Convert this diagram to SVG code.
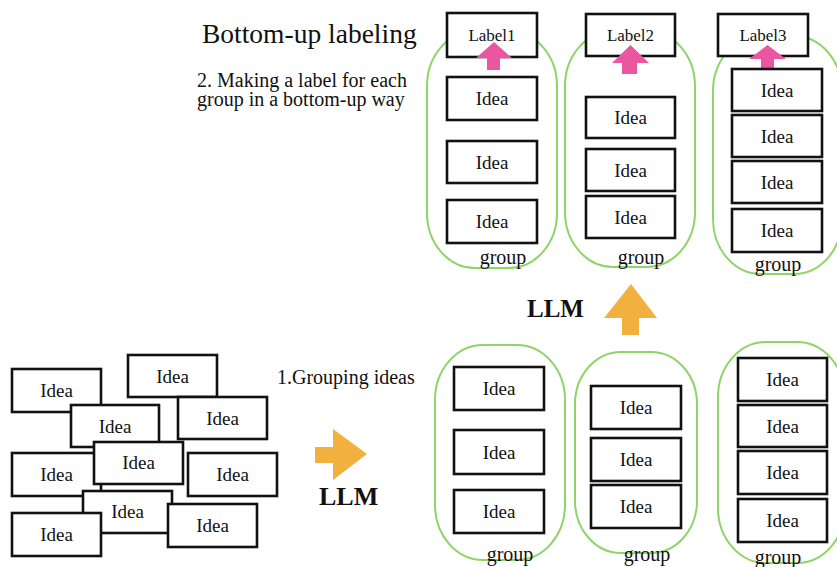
<svg xmlns="http://www.w3.org/2000/svg" width="837" height="567" viewBox="0 0 837 567">
<style>
text{font-family:"Liberation Serif","Times New Roman",serif;fill:#111}
.box{fill:#fff;stroke:#111;stroke-width:2.6}
.blob{fill:none;stroke:#8fd468;stroke-width:2}
.idea{font-size:19px;text-anchor:middle}
.lbl{font-size:17px;text-anchor:middle}
.grp{font-size:20px;text-anchor:middle}
.llm{font-size:25px;font-weight:bold}
.pink{fill:#ea56a0}
.orange{fill:#f2b13e}
</style>
<rect width="837" height="567" fill="#fff"/>
<g id="titles">
<text x="202" y="43" style="font-size:27.5px">Bottom-up labeling</text>
<text x="197" y="87" style="font-size:20px">2. Making a label for each</text>
<text x="197" y="106" style="font-size:20px">group in a bottom-up way</text>
<text x="277" y="384" style="font-size:20px">1.Grouping ideas</text>
</g>
<g id="scattered">
<g id="s-a"><rect class="box" x="12" y="369" width="89" height="43"/><text class="idea" x="56.5" y="397">Idea</text></g>
<g id="s-b"><rect class="box" x="128" y="355" width="89" height="42"/><text class="idea" x="172.5" y="382.5">Idea</text></g>
<g id="s-c"><rect class="box" x="71" y="405" width="88" height="42"/><text class="idea" x="115" y="432.5">Idea</text></g>
<g id="s-d"><rect class="box" x="178" y="397" width="89" height="42"/><text class="idea" x="222.5" y="424.5">Idea</text></g>
<g id="s-e"><rect class="box" x="12" y="453" width="89" height="43"/><text class="idea" x="56.5" y="481">Idea</text></g>
<g id="s-g"><rect class="box" x="188" y="453" width="89" height="43"/><text class="idea" x="232.5" y="481">Idea</text></g>
<g id="s-h"><rect class="box" x="83" y="491" width="89" height="42"/><text class="idea" x="127.5" y="518">Idea</text></g>
<g id="s-f"><rect class="box" x="94" y="442" width="89" height="42"/><text class="idea" x="138.5" y="469">Idea</text></g>
<g id="s-i"><rect class="box" x="168" y="504" width="89" height="43"/><text class="idea" x="212.5" y="532">Idea</text></g>
<g id="s-j"><rect class="box" x="12" y="513" width="89" height="43"/><text class="idea" x="56.5" y="541">Idea</text></g>
</g>
<g id="connectors">
<path class="orange" d="M315,447 H333 V429 L367,454 L333,480 V463 H315 Z"/>
<text class="llm" x="319" y="505" style="font-size:26px">LLM</text>
<path class="orange" d="M622,335 V318 H604 L631,284 L657,318 H639 V335 Z"/>
<text class="llm" x="527" y="317">LLM</text>
</g>
<g id="top-group1">
<rect class="blob" x="427" y="31" width="130" height="237" rx="48" ry="55"/>
<rect class="box" x="447" y="13" width="90" height="44"/><text class="lbl" x="492" y="41">Label1</text>
<rect class="box" x="447" y="77" width="90" height="43"/><text class="idea" x="492" y="105">Idea</text>
<rect class="box" x="447" y="141" width="90" height="42"/><text class="idea" x="492" y="168.5">Idea</text>
<rect class="box" x="447" y="200" width="90" height="43"/><text class="idea" x="492" y="228">Idea</text>
<path class="pink" d="M487,70 V58 H476 L494,42 L512,58 H500 V70 Z"/>
<text class="grp" x="503" y="264">group</text>
</g>
<g id="top-group2">
<rect class="blob" x="565" y="31" width="130" height="236" rx="48" ry="55"/>
<rect class="box" x="586" y="14" width="89" height="42"/><text class="lbl" x="630.5" y="41">Label2</text>
<rect class="box" x="586" y="97" width="89" height="41"/><text class="idea" x="630.5" y="124">Idea</text>
<rect class="box" x="586" y="149" width="89" height="42"/><text class="idea" x="630.5" y="176.5">Idea</text>
<rect class="box" x="586" y="196" width="89" height="42"/><text class="idea" x="630.5" y="223.5">Idea</text>
<path class="pink" d="M622,74 V63 H612 L630.5,45 L649,63 H637 V74 Z"/>
<text class="grp" x="641" y="264">group</text>
</g>
<g id="top-group3">
<rect class="blob" x="713" y="36" width="129" height="238" rx="48" ry="55"/>
<rect class="box" x="718" y="14" width="90" height="42"/><text class="lbl" x="763" y="41">Label3</text>
<path class="pink" d="M761,69 V59 H749 L767.5,45 L786,59 H774 V69 Z"/>
<rect class="box" x="732" y="69" width="90" height="42"/><text class="idea" x="777" y="96.5">Idea</text>
<rect class="box" x="732" y="115" width="90" height="42"/><text class="idea" x="777" y="142.5">Idea</text>
<rect class="box" x="732" y="161" width="90" height="42"/><text class="idea" x="777" y="188.5">Idea</text>
<rect class="box" x="732" y="209" width="90" height="43"/><text class="idea" x="777" y="237">Idea</text>
<text class="grp" x="778" y="271">group</text>
</g>
<g id="bottom-group1">
<rect class="blob" x="435" y="345" width="130" height="215" rx="48" ry="55"/>
<rect class="box" x="454" y="367" width="90" height="43"/><text class="idea" x="499" y="395">Idea</text>
<rect class="box" x="454" y="430" width="90" height="44"/><text class="idea" x="499" y="458.5">Idea</text>
<rect class="box" x="454" y="490" width="90" height="43"/><text class="idea" x="499" y="518">Idea</text>
<text class="grp" x="510" y="561">group</text>
</g>
<g id="bottom-group2">
<rect class="blob" x="575" y="352" width="122" height="201" rx="46" ry="52"/>
<rect class="box" x="591" y="386" width="90" height="43"/><text class="idea" x="636" y="414">Idea</text>
<rect class="box" x="591" y="438" width="90" height="43"/><text class="idea" x="636" y="466">Idea</text>
<rect class="box" x="591" y="485" width="90" height="43"/><text class="idea" x="636" y="513">Idea</text>
<text class="grp" x="647" y="561">group</text>
</g>
<g id="bottom-group3">
<rect class="blob" x="718" y="342" width="127" height="221" rx="48" ry="55"/>
<rect class="box" x="738" y="358" width="89" height="43"/><text class="idea" x="782.5" y="386">Idea</text>
<rect class="box" x="738" y="405" width="89" height="42"/><text class="idea" x="782.5" y="432.5">Idea</text>
<rect class="box" x="738" y="451" width="89" height="43"/><text class="idea" x="782.5" y="479">Idea</text>
<rect class="box" x="738" y="499" width="89" height="43"/><text class="idea" x="782.5" y="527">Idea</text>
<text class="grp" x="778" y="564">group</text>
</g>
</svg>
